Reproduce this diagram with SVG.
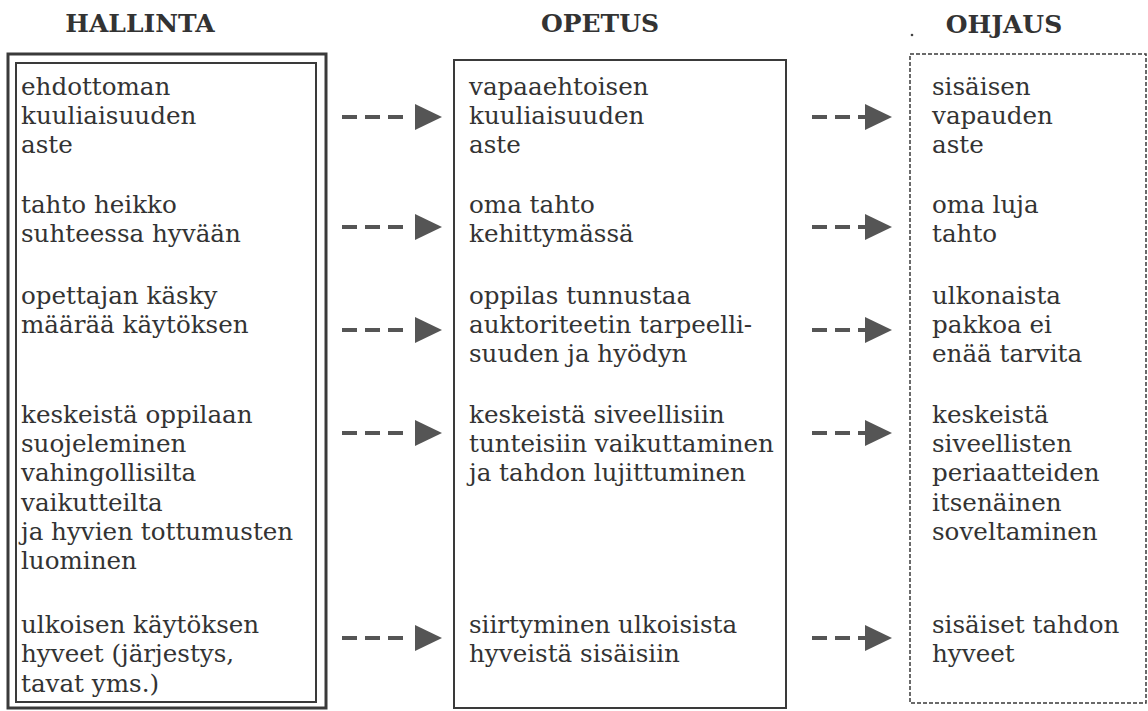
<svg xmlns="http://www.w3.org/2000/svg" width="1148" height="711" viewBox="0 0 1148 711">
<style>
.h{font-family:"DejaVu Serif","Liberation Serif",serif;font-size:25px;font-weight:bold;fill:#333;text-anchor:middle}
.t{font-family:"DejaVu Serif","Liberation Serif",serif;font-size:24.6px;fill:#333}
.box{fill:none;stroke:#3a3a3a}
.c1{stroke:#555;stroke-width:4;fill:none;stroke-dasharray:15 8 15 8 15 100;marker-end:url(#head)}
.c2{stroke:#555;stroke-width:4;fill:none;stroke-dasharray:15 8;marker-end:url(#head)}
</style>
<defs>
<marker id="head" markerUnits="userSpaceOnUse" markerWidth="27" markerHeight="26" viewBox="0 0 27 26" refX="0" refY="13" orient="auto">
<path d="M0,0 L27,13 L0,26 Z" fill="#555"/>
</marker>
</defs>
<rect width="1148" height="711" fill="#fff"/>
<g id="titles">
<text class="h" x="140" y="32">HALLINTA</text>
<text class="h" x="600" y="32">OPETUS</text>
<text class="h" x="1004" y="33">OHJAUS</text>
<circle cx="912" cy="35" r="1.3" fill="#444"/>
</g>
<g id="hallinta">
<rect class="box" x="8" y="54" width="318" height="654" stroke-width="3"/>
<rect class="box" x="16" y="63" width="300" height="639" stroke-width="2"/>
<text class="t"><tspan x="21" y="95">ehdottoman</tspan><tspan x="21" y="124">kuuliaisuuden</tspan><tspan x="21" y="153">aste</tspan></text>
<text class="t"><tspan x="21" y="213">tahto heikko</tspan><tspan x="21" y="242">suhteessa hyvään</tspan></text>
<text class="t"><tspan x="21" y="304">opettajan käsky</tspan><tspan x="21" y="333">määrää käytöksen</tspan></text>
<text class="t"><tspan x="21" y="423">keskeistä oppilaan</tspan><tspan x="21" y="452">suojeleminen</tspan><tspan x="21" y="481">vahingollisilta</tspan><tspan x="21" y="511">vaikutteilta</tspan><tspan x="21" y="540">ja hyvien tottumusten</tspan><tspan x="21" y="569">luominen</tspan></text>
<text class="t"><tspan x="21" y="633">ulkoisen käytöksen</tspan><tspan x="21" y="662">hyveet (järjestys,</tspan><tspan x="21" y="692">tavat yms.)</tspan></text>
</g>
<g id="opetus">
<rect class="box" x="454" y="60" width="332" height="648" stroke-width="2"/>
<text class="t"><tspan x="469" y="95">vapaaehtoisen</tspan><tspan x="469" y="124">kuuliaisuuden</tspan><tspan x="469" y="153">aste</tspan></text>
<text class="t"><tspan x="469" y="213">oma tahto</tspan><tspan x="469" y="242">kehittymässä</tspan></text>
<text class="t"><tspan x="469" y="304">oppilas tunnustaa</tspan><tspan x="469" y="333">auktoriteetin tarpeelli-</tspan><tspan x="469" y="362">suuden ja hyödyn</tspan></text>
<text class="t"><tspan x="469" y="423">keskeistä siveellisiin</tspan><tspan x="469" y="452">tunteisiin vaikuttaminen</tspan><tspan x="469" y="481">ja tahdon lujittuminen</tspan></text>
<text class="t"><tspan x="469" y="633">siirtyminen ulkoisista</tspan><tspan x="469" y="662">hyveistä sisäisiin</tspan></text>
</g>
<g id="ohjaus">
<rect class="box" x="910" y="54" width="236" height="649" stroke-width="1.5" stroke-dasharray="4 2"/>
<text class="t"><tspan x="932" y="95">sisäisen</tspan><tspan x="932" y="124">vapauden</tspan><tspan x="932" y="153">aste</tspan></text>
<text class="t"><tspan x="932" y="213">oma luja</tspan><tspan x="932" y="242">tahto</tspan></text>
<text class="t"><tspan x="932" y="304">ulkonaista</tspan><tspan x="932" y="333">pakkoa ei</tspan><tspan x="932" y="362">enää tarvita</tspan></text>
<text class="t"><tspan x="932" y="423">keskeistä</tspan><tspan x="932" y="452">siveellisten</tspan><tspan x="932" y="481">periaatteiden</tspan><tspan x="932" y="511">itsenäinen</tspan><tspan x="932" y="540">soveltaminen</tspan></text>
<text class="t"><tspan x="932" y="633">sisäiset tahdon</tspan><tspan x="932" y="662">hyveet</tspan></text>
</g>
<g id="connectors">
<path class="c1" d="M342,117 H415"/>
<path class="c1" d="M342,227 H415"/>
<path class="c1" d="M342,330 H415"/>
<path class="c1" d="M342,433 H415"/>
<path class="c1" d="M342,638 H415"/>
<path class="c2" d="M812,117 H865"/>
<path class="c2" d="M812,227 H865"/>
<path class="c2" d="M812,330 H865"/>
<path class="c2" d="M812,433 H865"/>
<path class="c2" d="M812,638 H865"/>
</g>
</svg>
